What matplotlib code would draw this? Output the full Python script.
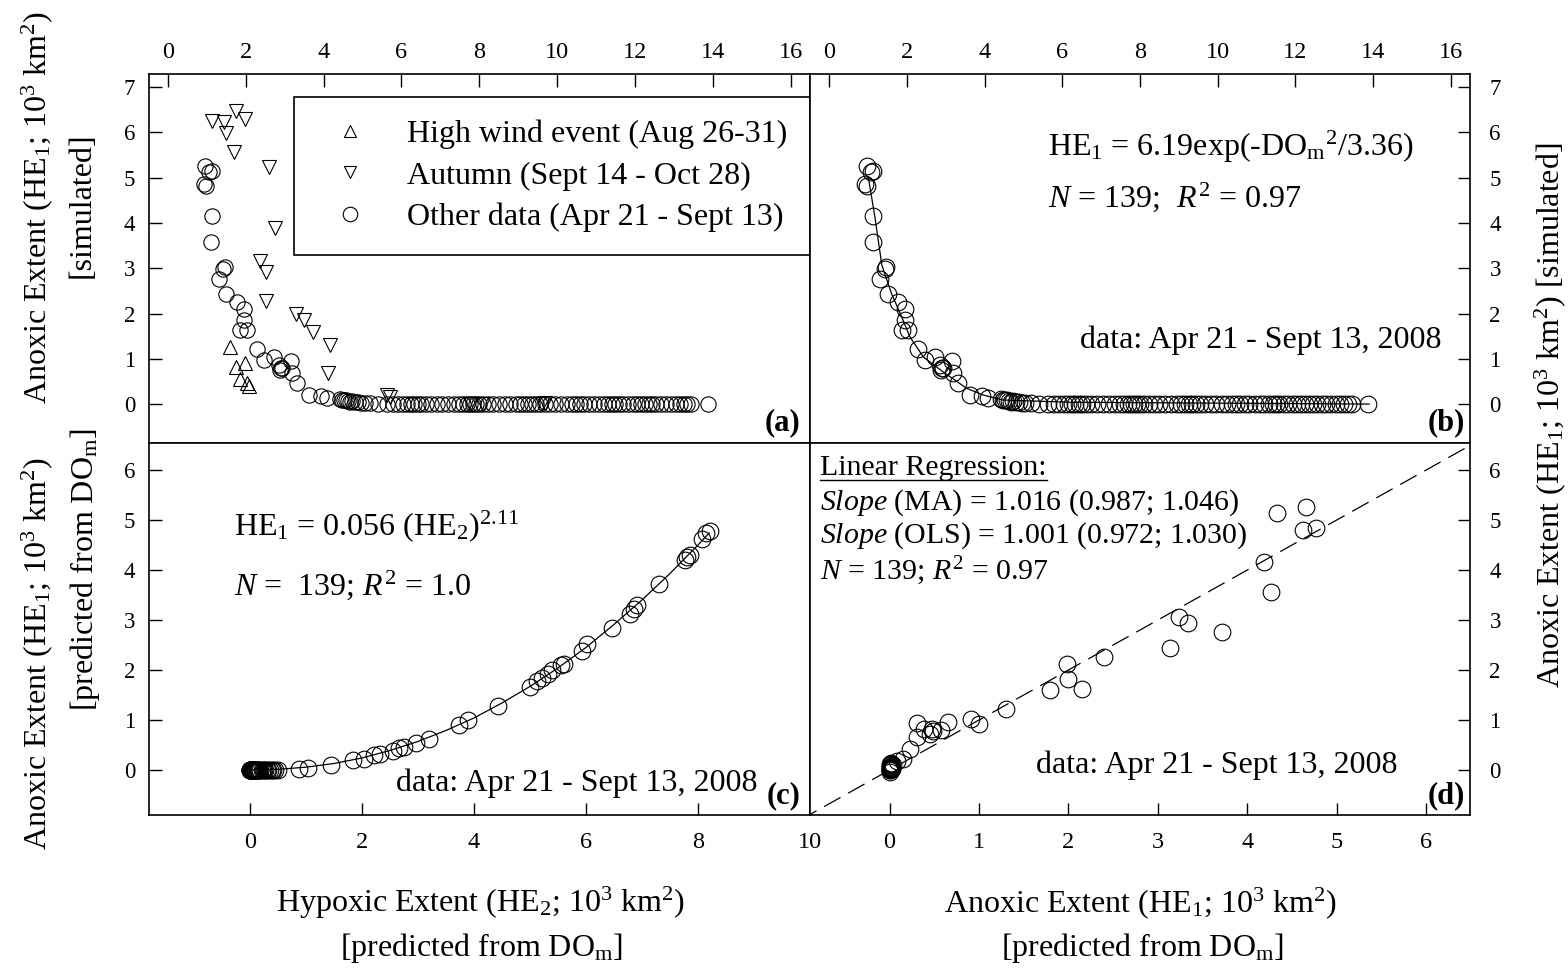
import matplotlib
matplotlib.use("Agg")
import matplotlib.pyplot as plt
from matplotlib.lines import Line2D

plt.rcParams['font.family'] = ['Liberation Serif', 'DejaVu Serif']
plt.rcParams['mathtext.fontset'] = 'custom'
plt.rcParams['mathtext.rm'] = 'Liberation Serif'
plt.rcParams['mathtext.it'] = 'Liberation Serif:italic'
plt.rcParams['mathtext.bf'] = 'Liberation Serif:bold'

# ---------------- data ----------------
# Panel (a)/(b): other data (Apr 21 - Sept 13): DO_m vs simulated HE1
do_other = [0.96, 1.13, 1.06, 0.92, 0.98, 1.13, 1.11, 1.46, 1.42, 1.30, 1.50, 1.77,
            1.94, 1.94, 1.86, 2.03, 2.29, 2.46, 2.72, 2.85, 2.93, 2.88, 2.90, 3.17,
            3.19, 3.32, 3.62, 3.94, 4.09,
            4.42, 4.48, 4.52, 4.58, 4.62, 4.68, 4.72, 4.80, 4.88, 4.95, 5.05, 5.18,
            5.40, 5.62, 5.78, 5.92, 6.05, 6.15, 6.25, 6.33, 6.42, 6.50, 6.62, 6.75,
            6.90, 7.05, 7.20, 7.35, 7.48, 7.58, 7.68, 7.76, 7.84, 7.92, 8.00, 8.10,
            8.22, 8.35, 8.50, 8.65, 8.80, 8.95, 9.05, 9.15, 9.25, 9.35, 9.45, 9.55,
            9.68, 9.82, 9.95, 10.10, 10.25, 10.38, 10.48, 10.58, 10.70, 10.82, 10.95,
            11.08, 11.20, 11.32, 11.42, 11.50, 11.58, 11.70, 11.82, 11.95, 12.05,
            12.15, 12.25, 12.35, 12.45, 12.55, 12.68, 12.80, 12.92, 13.05, 13.15,
            13.25, 13.35, 13.45, 13.88]
he1_other = [5.25, 5.15, 5.13, 4.87, 4.81, 4.15, 3.58, 3.03, 2.98, 2.77, 2.44, 2.26,
             2.11, 1.85, 1.63, 1.63, 1.21, 0.97, 1.03, 0.86, 0.79, 0.76, 0.80, 0.96,
             0.68, 0.46, 0.20, 0.18, 0.13,
             0.12, 0.10, 0.08, 0.10, 0.06, 0.05, 0.07, 0.04, 0.05, 0.03, 0.02, 0.02,
             0.01, 0.01, 0.01, 0.00, 0.00, 0.01, 0.00, 0.00, 0.00, 0.00, 0.00, 0.00,
             0.00, 0.00, 0.00, 0.00, 0.00, 0.00, 0.00, 0.00, 0.00, 0.00, 0.00, 0.00,
             0.00, 0.00, 0.00, 0.00, 0.00, 0.00, 0.00, 0.00, 0.00, 0.00, 0.00, 0.00,
             0.00, 0.00, 0.00, 0.00, 0.00, 0.00, 0.00, 0.00, 0.00, 0.00, 0.00,
             0.00, 0.00, 0.00, 0.00, 0.00, 0.00, 0.00, 0.00, 0.00, 0.00,
             0.00, 0.00, 0.00, 0.00, 0.00, 0.00, 0.00, 0.00, 0.00, 0.00,
             0.00, 0.00, 0.00, 0.00]

# Panel (a): autumn (Sept 14 - Oct 28)
do_autumn = [1.12, 1.44, 1.75, 1.98, 1.49, 1.69, 2.60, 2.75, 2.36, 2.52, 2.53, 3.28,
             3.49, 3.72, 4.16, 4.12, 5.62, 5.70, 7.75, 8.10, 9.62, 9.70]
he1_autumn = [6.26, 6.23, 6.48, 6.29, 5.98, 5.57, 5.23, 3.88, 3.16, 2.92, 2.28, 1.99,
              1.85, 1.60, 1.30, 0.69, 0.20, 0.15, 0.00, 0.00, 0.00, 0.02]

# Panel (a): high wind event (Aug 26-31)
do_wind = [1.59, 1.98, 1.75, 1.85, 2.02, 2.09]
he1_wind = [1.25, 0.90, 0.81, 0.55, 0.47, 0.40]

# Panel (b): fitted curve as drawn
fit_b_x = [1.00, 1.17, 1.35, 1.60, 1.86, 2.07, 2.42, 2.93, 3.53, 3.96, 4.47, 6.19, 13.90]
fit_b_y = [5.02, 4.14, 3.07, 2.44, 1.93, 1.49, 1.04, 0.71, 0.35, 0.20, 0.09, 0.04, 0.00]

# Panel (c): predicted HE2 vs predicted HE1
he2_pred = [8.15, 8.22, 8.08, 7.85, 7.77, 7.80, 7.30, 6.91, 6.85, 6.78, 6.47, 6.02,
            5.93, 5.60, 5.55, 5.40, 5.32, 5.22, 5.12, 5.00, 4.43, 3.89, 3.74, 3.19,
            2.96, 2.75, 2.66, 2.55, 2.33, 2.22, 2.03, 1.84, 1.45, 1.03, 0.87,
            0.00, 0.00, 0.00, 0.01, 0.01, 0.01, 0.02, 0.02, 0.02, 0.03, 0.03, 0.03,
            0.04, 0.04, 0.05, 0.05, 0.06, 0.06, 0.07, 0.08, 0.09, 0.10, 0.11, 0.12,
            0.13, 0.14, 0.15, 0.17, 0.19, 0.21, 0.23, 0.25, 0.27, 0.30, 0.33, 0.36,
            0.39, 0.42, 0.45, 0.50]
he1_pred_c = [4.73, 4.78, 4.63, 4.30, 4.20, 4.26, 3.72, 3.30, 3.22, 3.13, 2.85, 2.52,
              2.39, 2.13, 2.10, 2.00, 1.92, 1.85, 1.78, 1.67, 1.28, 1.01, 0.90, 0.63,
              0.54, 0.47, 0.44, 0.39, 0.33, 0.30, 0.23, 0.20, 0.11, 0.04, 0.02,
              0.00, 0.00, 0.00, 0.00, 0.00, 0.00, 0.00, 0.00, 0.00, 0.00, 0.00, 0.00,
              0.00, 0.00, 0.00, 0.00, 0.00, 0.00, 0.00, 0.00, 0.00, 0.00, 0.00, 0.00,
              0.00, 0.00, 0.00, 0.00, 0.00, 0.00, 0.00, 0.00, 0.00, 0.01, 0.01, 0.01,
              0.01, 0.01, 0.01, 0.01]

# Panel (c): fitted curve HE1 = 0.056 (HE2)^2.11 as drawn
fit_c_x = [0.0, 0.5, 1.0, 1.5, 2.0, 2.5, 3.0, 3.5, 4.0, 4.5, 5.0, 5.5, 6.0, 6.5,
           7.0, 7.5, 8.0, 8.2]
fit_c_y = [0.0, 0.013, 0.056, 0.13, 0.24, 0.39, 0.57, 0.79, 1.04, 1.34, 1.67, 2.04,
           2.45, 2.91, 3.40, 3.93, 4.50, 4.74]

# Panel (d): predicted HE1 vs simulated HE1
he1_pred_d = [4.66, 4.33, 4.62, 4.77, 4.19, 4.27, 3.24, 3.34, 3.72, 3.13, 2.40, 1.98,
              2.00, 2.15, 1.79, 1.30, 1.00, 0.91, 0.65, 0.57, 0.31, 0.39, 0.47, 0.45,
              0.48, 0.31, 0.23, 0.15, 0.08, 0.02,
              0.00, 0.00, 0.01, 0.01, 0.02, 0.02, 0.03, 0.00, 0.01, 0.02, 0.04, 0.03,
              0.00, 0.01, 0.02]
he1_sim_d = [5.26, 5.14, 4.80, 4.84, 4.16, 3.56, 3.06, 2.94, 2.76, 2.44, 2.27, 2.12,
             1.83, 1.63, 1.61, 1.23, 0.93, 1.02, 0.97, 0.81, 0.95, 0.83, 0.83, 0.73,
             0.78, 0.67, 0.43, 0.23, 0.19, 0.13,
             0.00, 0.03, 0.00, 0.06, 0.02, 0.09, 0.05, 0.11, 0.12, 0.07, 0.10, 0.02,
             -0.03, 0.04, 0.14]
one_to_one = [-1.0, 7.0]

top_xticks = [0, 2, 4, 6, 8, 10, 12, 14, 16]
top_yticks = [0, 1, 2, 3, 4, 5, 6, 7]
c_xticks = [0, 2, 4, 6, 8, 10]
d_xticks = [0, 1, 2, 3, 4, 5, 6]
bottom_yticks = [0, 1, 2, 3, 4, 5, 6]

# ---------------- layout ----------------
W, H = 1568, 972
fig = plt.figure(figsize=(W / 100, H / 100), dpi=100)


def fx(px):
    return px / W


def fy(py):
    return 1 - py / H


L, M, R = fx(149), fx(810), fx(1470)
T, Mid, B = fy(74), fy(443), fy(815)

axA = fig.add_axes([L, Mid, M - L, T - Mid])
axB = fig.add_axes([M, Mid, R - M, T - Mid])
axC = fig.add_axes([L, B, M - L, Mid - B])
axD = fig.add_axes([M, B, R - M, Mid - B])


def style(ax, xside, yside):
    for s in ax.spines.values():
        s.set_linewidth(1.2)
    ax.tick_params(axis='both', which='both', direction='in', length=9, width=1.0,
                   color='black')
    ax.tick_params(axis='x', labelsize=17.5)
    ax.tick_params(axis='y', labelsize=16.5)
    if xside == 'top':
        ax.tick_params(axis='x', top=True, bottom=False, labeltop=True,
                       labelbottom=False, pad=8)
    else:
        ax.tick_params(axis='x', top=False, bottom=True, labeltop=False,
                       labelbottom=True, pad=12)
    if yside == 'left':
        ax.tick_params(axis='y', left=True, right=False, labelleft=True,
                       labelright=False, pad=10)
    else:
        ax.tick_params(axis='y', left=False, right=True, labelleft=False,
                       labelright=True, pad=14)


mk = dict(linestyle='none', markerfacecolor='none', markeredgecolor='black',
          markeredgewidth=0.8)

# (a)
h_wind, = axA.plot(do_wind, he1_wind, marker='^', markersize=9.5,
                   label='High wind event (Aug 26-31)', **mk)
h_aut, = axA.plot(do_autumn, he1_autumn, marker='v', markersize=9.5,
                  label='Autumn (Sept 14 - Oct 28)', **mk)
h_oth, = axA.plot(do_other, he1_other, marker='o', markersize=11,
                  label='Other data (Apr 21 - Sept 13)', **mk)
axA.set_xlim(-0.49, 16.5)
axA.set_ylim(-0.86, 7.29)
axA.set_xticks(top_xticks)
axA.set_yticks(top_yticks)
style(axA, 'top', 'left')
leg = axA.legend(handles=[h_wind, h_aut, h_oth], loc='upper right',
                 bbox_to_anchor=(1.0, 0.937), borderaxespad=0, fontsize=23,
                 frameon=True, fancybox=False, edgecolor='black', framealpha=1,
                 handlelength=2.1, handletextpad=0.75, borderpad=0.7,
                 labelspacing=0.38, markerscale=0.95)
leg.get_frame().set_linewidth(1.2)

# (b)
axB.plot(fit_b_x, fit_b_y, color='black', linewidth=0.9)
axB.plot(do_other, he1_other, marker='o', markersize=12, **mk)
axB.set_xlim(-0.5, 16.5)
axB.set_ylim(-0.86, 7.29)
axB.set_xticks(top_xticks)
axB.set_yticks(top_yticks)
style(axB, 'top', 'right')

# (c)
axC.plot(fit_c_x, fit_c_y, color='black', linewidth=0.9)
axC.plot(he2_pred, he1_pred_c, marker='o', markersize=12, **mk)
axC.set_xlim(-1.8, 10.0)
axC.set_ylim(-0.9, 6.54)
axC.set_xticks(c_xticks)
axC.set_yticks(bottom_yticks)
style(axC, 'bottom', 'left')

# (d)
axD.plot(one_to_one, one_to_one, color='black', linewidth=0.9,
         linestyle=(0, (15, 7)))
axD.plot(he1_pred_d, he1_sim_d, marker='o', markersize=12, **mk)
axD.set_xlim(-0.89, 6.49)
axD.set_ylim(-0.9, 6.54)
axD.set_xticks(d_xticks)
axD.set_yticks(bottom_yticks)
style(axD, 'bottom', 'right')

# panel letters
for ax, lab, xr, yb in [(axA, '(a)', 0.986, 0.035), (axB, '(b)', 0.992, 0.035),
                        (axC, '(c)', 0.986, 0.032), (axD, '(d)', 0.992, 0.032)]:
    ax.text(xr, yb, lab, transform=ax.transAxes, ha='right', va='baseline',
            fontsize=22, fontweight='bold')

# annotations
fs = 23
fig.text(fx(1048), fy(156), r'HE$_1$ = 6.19exp(-DO$_\mathrm{m}$$^2$/3.36)',
         fontsize=fs, va='baseline', ha='left')
fig.text(fx(1048), fy(207), r'$N$ = 139;  $R^2$ = 0.97', fontsize=fs,
         va='baseline', ha='left')
fig.text(fx(1442), fy(348), 'data: Apr 21 - Sept 13, 2008', fontsize=fs,
         va='baseline', ha='right')

fig.text(fx(234), fy(535), r'HE$_1$ = 0.056 (HE$_2$)$^{2.11}$', fontsize=fs,
         va='baseline', ha='left')
fig.text(fx(234), fy(595), r'$N$ =  139; $R^2$ = 1.0', fontsize=fs,
         va='baseline', ha='left')
fig.text(fx(758), fy(791), 'data: Apr 21 - Sept 13, 2008', fontsize=fs,
         va='baseline', ha='right')

fs2 = 21.5
t_lr = fig.text(fx(820), fy(475), 'Linear Regression:', fontsize=fs2,
                va='baseline', ha='left')
fig.text(fx(820), fy(510), r'$Slope$ (MA) = 1.016 (0.987; 1.046)', fontsize=fs2,
         va='baseline', ha='left')
fig.text(fx(820), fy(543), r'$Slope$ (OLS) = 1.001 (0.972; 1.030)', fontsize=fs2,
         va='baseline', ha='left')
fig.text(fx(820), fy(579), r'$N$ = 139; $R^2$ = 0.97', fontsize=fs2,
         va='baseline', ha='left')
fig.text(fx(1398), fy(773), 'data: Apr 21 - Sept 13, 2008', fontsize=fs,
         va='baseline', ha='right')

# axis labels
fig.text(fx(480), fy(903), r'Hypoxic Extent (HE$_2$; 10$^3$ km$^2$)', fontsize=fs,
         ha='center', va='center')
fig.text(fx(481), fy(948), r'[predicted from DO$_\mathrm{m}$]', fontsize=fs,
         ha='center', va='center')
fig.text(fx(1140), fy(903), r'Anoxic Extent (HE$_1$; 10$^3$ km$^2$)', fontsize=fs,
         ha='center', va='center')
fig.text(fx(1142), fy(948), r'[predicted from DO$_\mathrm{m}$]', fontsize=fs,
         ha='center', va='center')

fsl = 23
fig.text(fx(37), fy(404), r'Anoxic Extent (HE$_1$; 10$^3$ km$^2$)', fontsize=fsl,
         rotation=90, ha='center', va='bottom')
fig.text(fx(82), fy(205), '[simulated]', fontsize=fsl, rotation=90,
         ha='center', va='center')
fig.text(fx(37), fy(654), r'Anoxic Extent (HE$_1$; 10$^3$ km$^2$)', fontsize=fsl,
         rotation=90, ha='center', va='center')
fig.text(fx(85), fy(570), r'[predicted from DO$_\mathrm{m}$]', fontsize=fsl,
         rotation=90, ha='center', va='center')
fig.text(fx(1550), fy(415), r'Anoxic Extent (HE$_1$; 10$^3$ km$^2$) [simulated]',
         fontsize=fs, rotation=90, ha='center', va='center')

# underline "Linear Regression:"
fig.canvas.draw()
bb = t_lr.get_window_extent(fig.canvas.get_renderer())
fig.add_artist(Line2D([bb.x0 / W, bb.x1 / W], [fy(480), fy(480)],
                      transform=fig.transFigure, color='black', linewidth=1.0))

fig.savefig('out.png', dpi=100)
